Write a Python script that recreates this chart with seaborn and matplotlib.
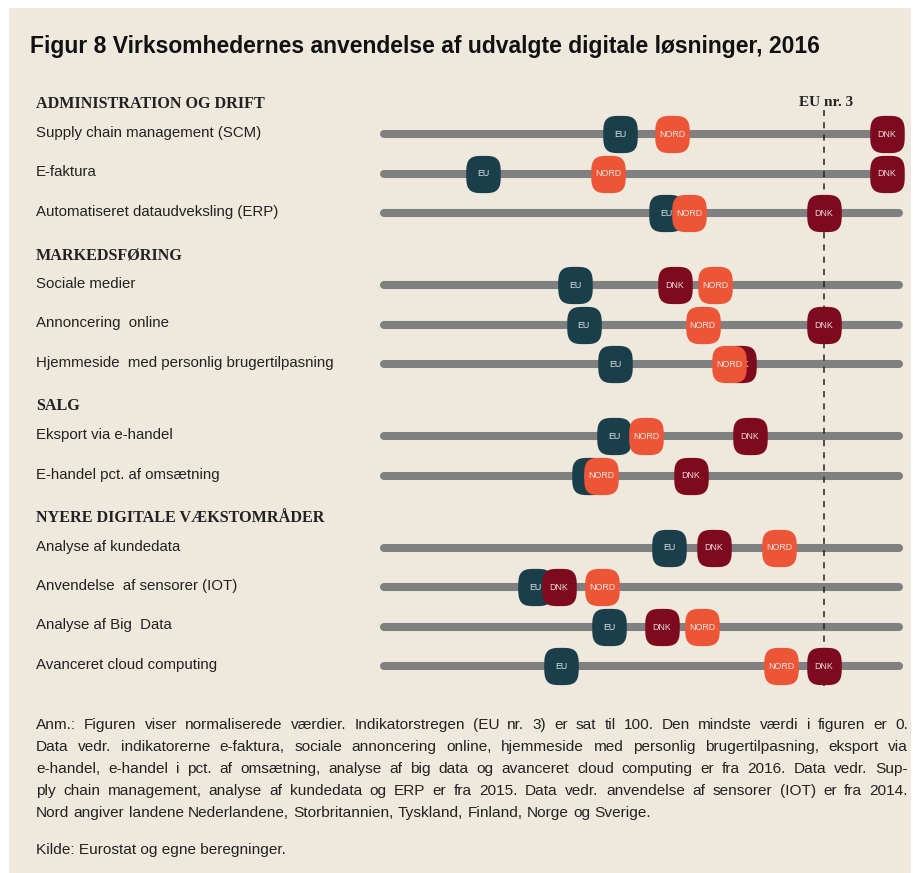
import numpy as np
import pandas as pd
import seaborn as sns
import matplotlib.pyplot as plt
from matplotlib.path import Path
from matplotlib.patches import Rectangle

# data (normaliseret, EU nr. 3 = 100)
groups = ['ADMINISTRATION OG DRIFT', 'MARKEDSFØRING', 'SALG', 'NYERE DIGITALE VÆKSTOMRÅDER']
row_group = [0, 0, 0, 1, 1, 1, 2, 2, 3, 3, 3, 3]
indicators = ['Supply chain management (SCM)', 'E-faktura', 'Automatiseret dataudveksling (ERP)',
              'Sociale medier', 'Annoncering  online', 'Hjemmeside  med personlig brugertilpasning',
              'Eksport via e-handel', 'E-handel pct. af omsætning',
              'Analyse af kundedata', 'Anvendelse  af sensorer (IOT)', 'Analyse af Big  Data',
              'Avanceret cloud computing']
eu = [54.1, 23.2, 64.4, 43.9, 45.9, 52.9, 52.7, 47.1, 65.1, 34.9, 51.6, 40.8]
dnk = [114.2, 114.2, 100, 66.4, 100, 80.9, 83.3, 70.0, 75.2, 40.3, 63.5, 100]
nord = [65.8, 51.4, 69.6, 75.5, 72.7, 78.6, 59.9, 49.8, 89.9, 50.0, 72.5, 90.3]
regions = ['EU', 'DNK', 'NORD']
colors = {'EU': '#1b3e4b', 'DNK': '#7e0a1e', 'NORD': '#ec5637'}

notes = [
    'Anm.: Figuren viser normaliserede værdier. Indikatorstregen (EU nr. 3) er sat til 100. Den mindste værdi i figuren er 0.',
    'Data vedr. indikatorerne e-faktura, sociale annoncering online, hjemmeside med personlig brugertilpasning, eksport via',
    'e-handel, e-handel i pct. af omsætning, analyse af big data og avanceret cloud computing er fra 2016. Data vedr. Sup-',
    'ply chain management, analyse af kundedata og ERP er fra 2015. Data vedr. anvendelse af sensorer (IOT) er fra 2014.',
    'Nord angiver landene Nederlandene, Storbritannien, Tyskland, Finland, Norge og Sverige.',
]
source = 'Kilde: Eurostat og egne beregninger.'

# vertical layout (pixel units, top-down)
header_y, row_y = [], []
y = 104
for g in range(len(groups)):
    header_y.append(y)
    n = row_group.count(g)
    for i in range(n):
        y += 30 if i == 0 else 39.5
        row_y.append(y)
    y += 42

df = pd.DataFrame({
    'value': eu + dnk + nord,
    'y': row_y * 3,
    'region': np.repeat(regions, len(indicators)),
})

# rounded-square marker
t = np.linspace(0, 2 * np.pi, 160)
mx = np.sign(np.cos(t)) * np.abs(np.cos(t)) ** 0.6
my = 1.08 * np.sign(np.sin(t)) * np.abs(np.sin(t)) ** 0.6
squircle = Path(np.column_stack([mx, my]))

sns.set_style('white')
plt.rcParams['font.family'] = ['Liberation Sans', 'DejaVu Sans']

fig = plt.figure(figsize=(9.13, 8.73), dpi=100, facecolor='white')
fig.patches.append(Rectangle((9 / 913, 0), 902 / 913, 865 / 873, transform=fig.transFigure,
                             facecolor='#efe9dd', edgecolor='none', zorder=-1))
ax = fig.add_axes([0, 0, 1, 1])
ax.set_facecolor('none')
ax.set_xlim(-380 / 4.44, 533 / 4.44)
ax.set_ylim(873, 0)
ax.axis('off')

bars = ax.hlines(row_y, 1, 116.8, color='#808080', lw=5.8, zorder=1)
bars.set_capstyle('round')

ax.vlines(100, 110, 686, color='#222222', lw=1.1, linestyles=(0, (4, 4)), zorder=2)
ax.text(100.5, 102, 'EU nr. 3', ha='center', va='center', fontsize=11, fontweight='bold',
        family=['Liberation Serif', 'DejaVu Serif'], color='#222222')

for i, r in enumerate(regions):
    sub = df[df['region'] == r]
    sns.scatterplot(data=sub, x='value', y='y', color=colors[r], marker=squircle, s=720,
                    linewidth=0, legend=False, ax=ax, zorder=3 + 2 * i)
    for v, yy in zip(sub['value'], sub['y']):
        ax.text(v, yy + 0.5, r, ha='center', va='center', fontsize=6.4, color='white',
                alpha=0.85, zorder=4 + 2 * i)
ax.set_xlabel('')
ax.set_ylabel('')

for g, hy in zip(groups, header_y):
    ax.text(-344 / 4.44, hy, g, ha='left', va='center', fontsize=11.6, fontweight='bold',
            family=['Liberation Serif', 'DejaVu Serif'], color='#222222')
for lab, yy in zip(indicators, row_y):
    ax.text(-344 / 4.44, yy - 1, lab, ha='left', va='center', fontsize=10.8, color='#222222')

fig.text(30 / 913, 1 - 47 / 873, 'Figur 8 Virksomhedernes anvendelse af udvalgte digitale løsninger, 2016',
         ha='left', va='center', fontsize=16.5, fontweight='bold', color='#111111')

# justified note lines
renderer = fig.canvas.get_renderer()
left, right = 36, 908
fs = 11.1
for k, line in enumerate(notes):
    yy = 1 - (725 + 22 * k) / 873
    words = line.split(' ')
    objs = [fig.text(0, yy, w, ha='left', va='center', fontsize=fs, color='#222222') for w in words]
    widths = [o.get_window_extent(renderer).width for o in objs]
    if k < len(notes) - 1:
        gap = (right - left - sum(widths)) / (len(words) - 1)
    else:
        gap = 0.28 * fs * 100 / 72
    x = left
    for o, w in zip(objs, widths):
        o.set_x(x / 913)
        x += w + gap
fig.text(36 / 913, 1 - 850 / 873, source, ha='left', va='center', fontsize=fs, color='#222222')

fig.savefig('out.png', dpi=100, facecolor='white')
